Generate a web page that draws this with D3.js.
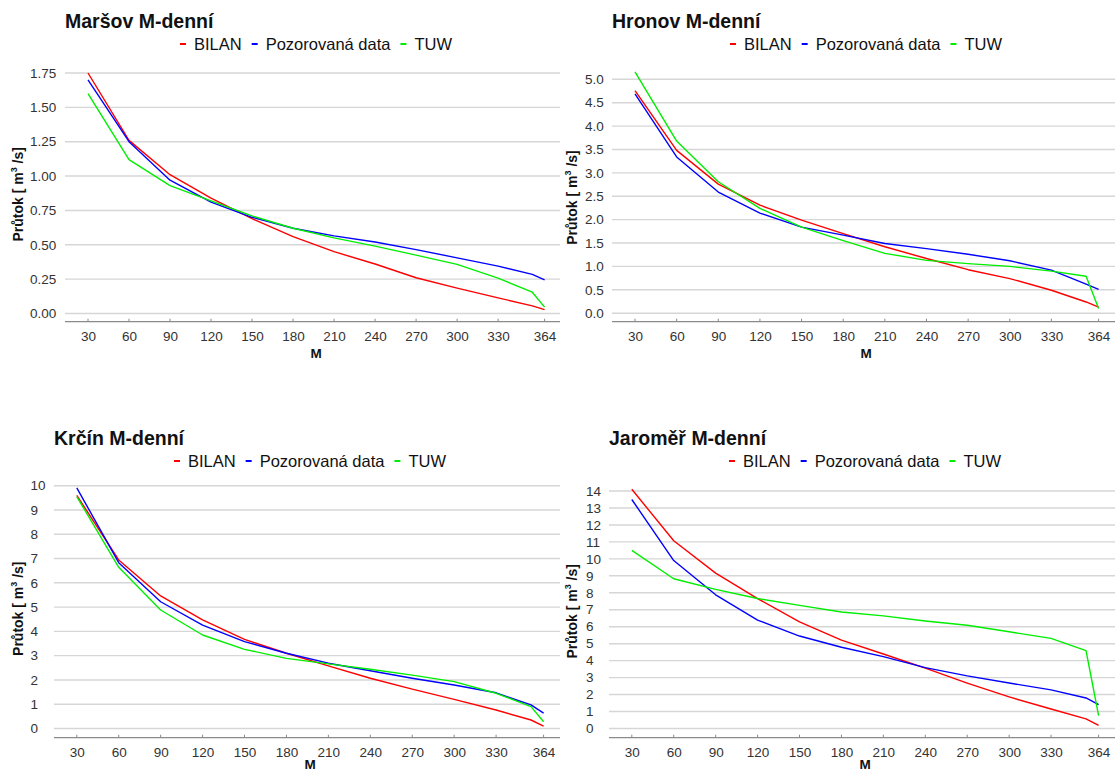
<!DOCTYPE html>
<html>
<head>
<meta charset="utf-8">
<script src="https://cdn.jsdelivr.net/npm/d3@7"></script>
<style>
  html, body { margin: 0; padding: 0; background: #fff; }
  svg { display: block; font-family: "Liberation Sans", Arial, sans-serif; }
</style>
</head>
<body>
<svg id="chart" width="1115" height="773"></svg>
<script>
// ---- data ----
const M = [30, 60, 90, 120, 150, 180, 210, 240, 270, 300, 330, 355, 364];
const xTicks = [30, 60, 90, 120, 150, 180, 210, 240, 270, 300, 330, 364];
const seriesNames = ["BILAN", "Pozorovaná data", "TUW"];
const seriesColors = ["#ff0000", "#0000ff", "#00ee00"];

const titles = ["Maršov M-denní", "Hronov M-denní", "Krčín M-denní", "Jaroměř M-denní"];

const marsovBilan = [1.75, 1.26, 1.01, 0.84, 0.69, 0.56, 0.45, 0.36, 0.26, 0.185, 0.114, 0.055, 0.028];
const marsovObs   = [1.70, 1.25, 0.97, 0.81, 0.70, 0.62, 0.565, 0.52, 0.465, 0.405, 0.345, 0.285, 0.245];
const marsovTuw   = [1.60, 1.12, 0.93, 0.82, 0.71, 0.62, 0.55, 0.49, 0.425, 0.357, 0.258, 0.155, 0.046];
const marsovYTicks = [0, 0.25, 0.5, 0.75, 1.0, 1.25, 1.5, 1.75];

const hronovBilan = [4.76, 3.48, 2.76, 2.31, 1.99, 1.70, 1.42, 1.17, 0.93, 0.74, 0.49, 0.24, 0.13];
const hronovObs   = [4.69, 3.34, 2.59, 2.14, 1.84, 1.67, 1.49, 1.38, 1.26, 1.12, 0.92, 0.62, 0.51];
const hronovTuw   = [5.16, 3.68, 2.81, 2.24, 1.84, 1.55, 1.28, 1.13, 1.06, 1.00, 0.90, 0.79, 0.10];
const hronovYTicks = [0, 0.5, 1.0, 1.5, 2.0, 2.5, 3.0, 3.5, 4.0, 4.5, 5.0];

const krcinBilan = [9.60, 6.94, 5.46, 4.47, 3.67, 3.10, 2.58, 2.07, 1.62, 1.20, 0.76, 0.35, 0.10];
const krcinObs   = [9.91, 6.83, 5.22, 4.26, 3.58, 3.10, 2.69, 2.38, 2.07, 1.79, 1.47, 0.97, 0.63];
const krcinTuw   = [9.55, 6.64, 4.88, 3.85, 3.26, 2.89, 2.66, 2.44, 2.20, 1.93, 1.45, 0.90, 0.28];
const krcinYTicks = [0, 1, 2, 3, 4, 5, 6, 7, 8, 9, 10];

const jaromerBilan = [14.1, 11.07, 9.16, 7.66, 6.29, 5.21, 4.39, 3.56, 2.68, 1.86, 1.15, 0.57, 0.19];
const jaromerObs   = [13.5, 9.90, 7.88, 6.39, 5.45, 4.79, 4.24, 3.59, 3.10, 2.68, 2.28, 1.80, 1.41];
const jaromerTuw   = [10.5, 8.83, 8.20, 7.66, 7.26, 6.87, 6.64, 6.34, 6.09, 5.70, 5.31, 4.59, 0.76];
const jaromerYTicks = [0, 1, 2, 3, 4, 5, 6, 7, 8, 9, 10, 11, 12, 13, 14];

const panelSeries = [
  [marsovBilan, marsovObs, marsovTuw],
  [hronovBilan, hronovObs, hronovTuw],
  [krcinBilan, krcinObs, krcinTuw],
  [jaromerBilan, jaromerObs, jaromerTuw]
];
const panelYTicks = [marsovYTicks, hronovYTicks, krcinYTicks, jaromerYTicks];
const yTickFormats = [d3.format(".2f"), d3.format(".1f"), d3.format("d"), d3.format("d")];

// ---- layout (pixel geometry) ----
const layout = [
  { gridLeft: 65,  right: 560,  x30: 88,    x364: 544.6, y0: 313.5, yTop: 73,    axisY: 321.7, labelX: 30,  yLabX: 18,  titleY: 28,  legendY: 44,  plotCx: 316, mY: 357.5 },
  { gridLeft: 612, right: 1115, x30: 635,   x364: 1098.6, y0: 313.2, yTop: 79.3, axisY: 321.7, labelX: 585, yLabX: 572, titleY: 28,  legendY: 44,  plotCx: 866, mY: 357.5 },
  { gridLeft: 54,  right: 560,  x30: 76.8,  x364: 543.6, y0: 728.5, yTop: 485.7, axisY: 737.7, labelX: 30.5, yLabX: 18, titleY: 445, legendY: 461, plotCx: 310, mY: 769 },
  { gridLeft: 609, right: 1115, x30: 631.8, x364: 1098.6, y0: 728.5, yTop: 491,  axisY: 737.7, labelX: 586, yLabX: 572, titleY: 445, legendY: 461, plotCx: 865, mY: 769 }
];

const svg = d3.select("#chart");

layout.forEach((L, p) => {
  const g = svg.append("g");
  const ticks = panelYTicks[p];
  const x = d3.scaleLinear().domain([30, 364]).range([L.x30, L.x364]);
  const y = d3.scaleLinear().domain([0, ticks[ticks.length - 1]]).range([L.y0, L.yTop]);

  // gridlines
  g.append("g").selectAll("line").data(ticks).join("line")
    .attr("x1", L.gridLeft).attr("x2", L.right)
    .attr("y1", d => y(d)).attr("y2", d => y(d))
    .attr("stroke", "#d6d6d6").attr("stroke-width", 1.4);

  // y tick labels
  g.append("g").selectAll("text").data(ticks).join("text")
    .attr("x", L.labelX).attr("y", d => y(d))
    .attr("dy", "0.35em")
    .attr("font-size", 13.5).attr("fill", "#333")
    .text(d => yTickFormats[p](d));

  // x axis
  const xAxis = d3.axisBottom(x).tickValues(xTicks).tickSize(0).tickPadding(10).tickFormat(d3.format("d"));
  const ax = g.append("g").attr("transform", `translate(0,${L.axisY})`).call(xAxis);
  ax.select(".domain").remove();
  ax.selectAll("text").attr("font-size", 13.5).attr("fill", "#333").attr("font-family", "Liberation Sans, Arial, sans-serif");
  g.append("line").attr("x1", L.gridLeft).attr("x2", L.right)
    .attr("y1", L.axisY).attr("y2", L.axisY)
    .attr("stroke", "#8a8a8a").attr("stroke-width", 1.3);
  g.append("g").selectAll("line").data(xTicks).join("line")
    .attr("x1", d => x(d)).attr("x2", d => x(d))
    .attr("y1", L.axisY).attr("y2", L.axisY - 3)
    .attr("stroke", "#8a8a8a").attr("stroke-width", 1);

  // x title
  g.append("text").attr("x", L.plotCx).attr("y", L.mY)
    .attr("text-anchor", "middle").attr("font-weight", "bold").attr("font-size", 13.5)
    .attr("fill", "#111").text("M");

  // y title
  const yc = (L.yTop + L.axisY) / 2 - 3;
  const yt = g.append("text")
    .attr("transform", `translate(${L.yLabX + 5},${yc}) rotate(-90)`)
    .attr("text-anchor", "middle").attr("font-weight", "bold").attr("font-size", 14)
    .attr("fill", "#111");
  yt.append("tspan").text("Průtok [ m");
  yt.append("tspan").attr("dy", -6).attr("font-size", 9).text("3");
  yt.append("tspan").attr("dy", 6).text(" /s]");

  // lines
  const line = d3.line().x((d, i) => x(M[i])).y(d => y(d));
  panelSeries[p].forEach((vals, s) => {
    g.append("path").datum(vals)
      .attr("d", line)
      .attr("fill", "none")
      .attr("stroke", seriesColors[s])
      .attr("stroke-width", 1.4)
      .attr("stroke-linejoin", "round");
  });

  // title
  g.append("text").attr("x", L.gridLeft).attr("y", L.titleY)
    .attr("font-weight", "bold").attr("font-size", 19.5).attr("fill", "#111")
    .text(titles[p]);

  // legend (centered over plot)
  const leg = g.append("g");
  let cx = 0;
  seriesNames.forEach((name, s) => {
    const it = leg.append("g").attr("transform", `translate(${cx},0)`);
    it.append("line").attr("x1", 0).attr("x2", 6).attr("y1", 0).attr("y2", 0)
      .attr("stroke", seriesColors[s]).attr("stroke-width", 2);
    const t = it.append("text").attr("x", 14).attr("y", 0).attr("dy", "0.35em")
      .attr("font-size", 16.5).attr("fill", "#111").text(name);
    const w = t.node().getComputedTextLength();
    cx += 14 + w + 10;
  });
  const totalW = cx - 10;
  leg.attr("transform", `translate(${L.plotCx - totalW / 2},${L.legendY})`);
});
</script>
</body>
</html>
